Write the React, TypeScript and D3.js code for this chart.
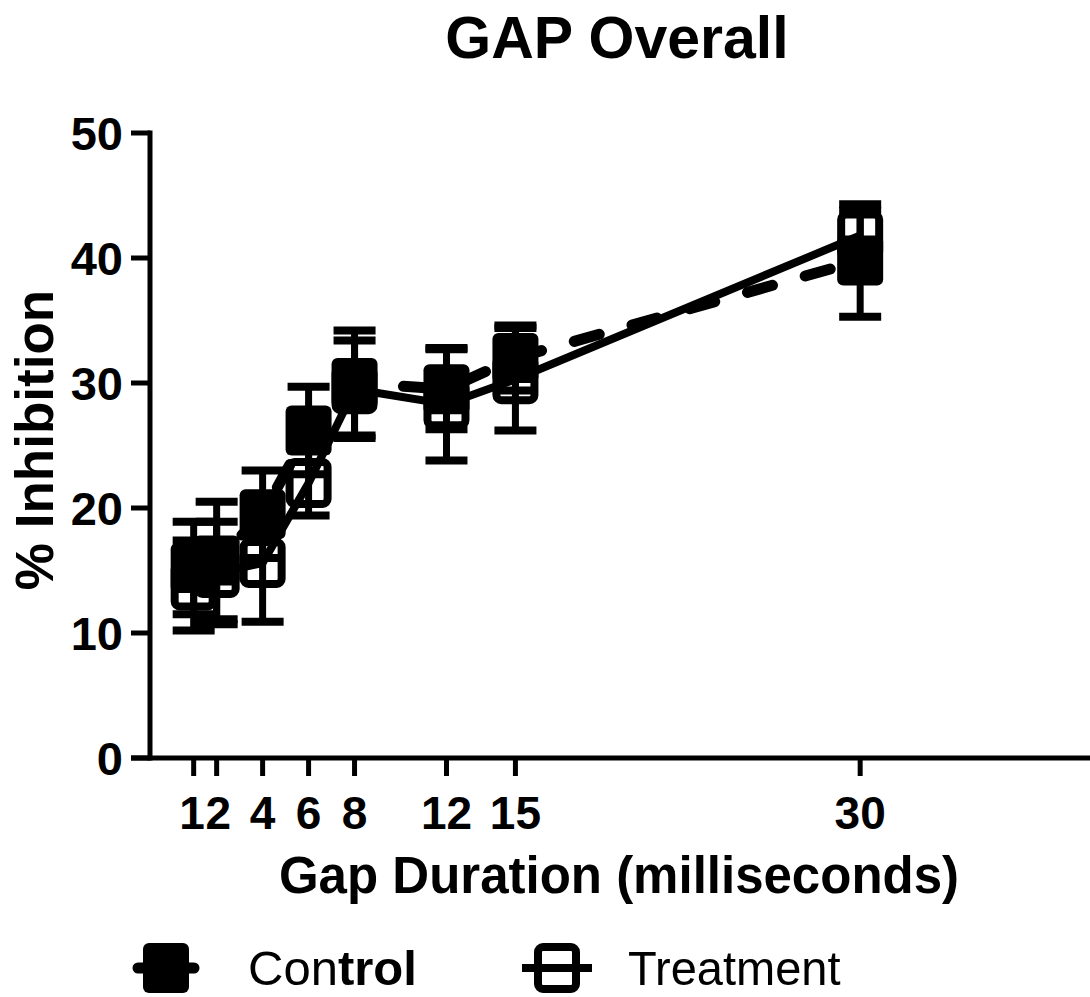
import React from "react";
import * as d3 from "d3";

// gap durations (ms) and group means / SEM
const gapDurations = [1, 2, 4, 6, 8, 12, 15, 30];
const controlMean = [15.2, 15.8, 19.5, 26.2, 30, 29.5, 32, 39.8];
const controlSem = [3.7, 4.7, 3.5, 3.5, 4.2, 3.2, 2.6, 4.5];
const treatmentMean = [13.8, 14.8, 15.6, 22, 29.5, 28.3, 30.3, 41.8];
const treatmentSem = [3.6, 4.1, 4.7, 2.6, 3.9, 4.5, 4.1, 2];
const yTicks = [0, 10, 20, 30, 40, 50];
const xTickLabels = ["1", "2", "4", "6", "8", "12", "15", "30"];

const W = 1090;
const H = 997;
const FONT = "'Liberation Sans', Arial, sans-serif";

const x = d3.scaleLinear().domain([-0.9, 40]).range([150, 1090]);
const y = d3.scaleLinear().domain([0, 50]).range([758, 133]);

const MW = 46; // marker width
const MH = 50; // marker height
const CAP = 21;

function series(mean: number[], sem: number[]) {
  return gapDurations.map((g, i) => ({ g, m: mean[i], s: sem[i] }));
}

const control = series(controlMean, controlSem);
const treatment = series(treatmentMean, treatmentSem);

const line = d3
  .line<{ g: number; m: number }>()
  .x((d) => x(d.g))
  .y((d) => y(d.m));

// the "1" and "2" labels sit almost on top of each other; nudge them apart a hair
const labelNudge = (i: number) => (i === 0 ? -1.6 : i === 1 ? 1.6 : 0);

function ErrorBars({ data }: { data: { g: number; m: number; s: number }[] }) {
  return (
    <g stroke="#000" strokeWidth={7} fill="none">
      {data.map((d, i) => {
        const cx = x(d.g);
        const top = y(d.m + d.s);
        const bot = y(d.m - d.s);
        return (
          <g key={i}>
            <line x1={cx} x2={cx} y1={top} y2={bot} />
            <line x1={cx - CAP} x2={cx + CAP} y1={top} y2={top} strokeWidth={8} />
            <line x1={cx - CAP} x2={cx + CAP} y1={bot} y2={bot} strokeWidth={8} />
          </g>
        );
      })}
    </g>
  );
}

function FilledMarker({ cx, cy }: { cx: number; cy: number }) {
  return <rect x={cx - MW / 2} y={cy - MH / 2} width={MW} height={MH} rx={6} fill="#000" />;
}

function OpenMarker({ cx, cy }: { cx: number; cy: number }) {
  return (
    <rect
      x={cx - MW / 2 + 4}
      y={cy - MH / 2 + 4}
      width={MW - 8}
      height={MH - 8}
      rx={5}
      fill="none"
      stroke="#000"
      strokeWidth={8}
    />
  );
}

export default function App() {
  return (
    <svg
      width={W}
      height={H}
      style={{ position: "absolute", left: 0, top: 0, background: "#fff" }}
      fontFamily={FONT}
    >
      <rect width={W} height={H} fill="#fff" />
      <text x={617} y={58} textAnchor="middle" fontSize={59} fontWeight="bold">
        GAP Overall
      </text>

      {/* y axis */}
      <g stroke="#000" strokeWidth={5}>
        <line x1={150} x2={150} y1={y(50) - 2.5} y2={y(0) + 2.5} />
        {yTicks.map((t) => (
          <line key={t} x1={131} x2={150} y1={y(t)} y2={y(t)} />
        ))}
      </g>
      {yTicks.map((t) => (
        <text key={t} x={123} y={y(t) + 17} textAnchor="end" fontSize={47} fontWeight="bold">
          {t}
        </text>
      ))}
      <text
        transform={`translate(53, 440) rotate(-90)`}
        textAnchor="middle"
        fontSize={53}
        fontWeight="bold"
      >
        % Inhibition
      </text>

      {/* x axis */}
      <g stroke="#000" strokeWidth={5}>
        <line x1={131} x2={1090} y1={y(0)} y2={y(0)} />
        {gapDurations.map((g) => (
          <line key={g} x1={x(g)} x2={x(g)} y1={y(0)} y2={y(0) + 18} />
        ))}
      </g>
      {gapDurations.map((g, i) => (
        <text
          key={g}
          x={x(g) + labelNudge(i)}
          y={829}
          textAnchor="middle"
          fontSize={46}
          fontWeight="bold"
        >
          {xTickLabels[i]}
        </text>
      ))}
      <text x={619} y={893} textAnchor="middle" fontSize={51} fontWeight="bold">
        Gap Duration (milliseconds)
      </text>

      {/* series */}
      <ErrorBars data={treatment} />
      <ErrorBars data={control} />
      <path d={line(treatment) || ""} fill="none" stroke="#000" strokeWidth={8} />
      <path
        d={line(control) || ""}
        fill="none"
        stroke="#000"
        strokeWidth={11}
        strokeDasharray="26 34"
        strokeLinecap="round"
      />
      {control.map((d, i) => (
        <FilledMarker key={i} cx={x(d.g)} cy={y(d.m)} />
      ))}
      {treatment.map((d, i) => (
        <OpenMarker key={i} cx={x(d.g)} cy={y(d.m)} />
      ))}

      {/* legend */}
      <g>
        <line x1={138} x2={194} y1={968} y2={968} stroke="#000" strokeWidth={11} strokeLinecap="round" />
        <FilledMarker cx={166} cy={968} />
        <text x={248} y={985} fontSize={49}>
          Con<tspan fontWeight="bold">trol</tspan>
        </text>
        <line x1={522} x2={592} y1={968} y2={968} stroke="#000" strokeWidth={8} />
        <OpenMarker cx={557} cy={968} />
        <g transform="translate(628, 985) scale(0.96, 1)">
          <text x={0} y={0} fontSize={49}>
            Treatment
          </text>
        </g>
      </g>
    </svg>
  );
}
